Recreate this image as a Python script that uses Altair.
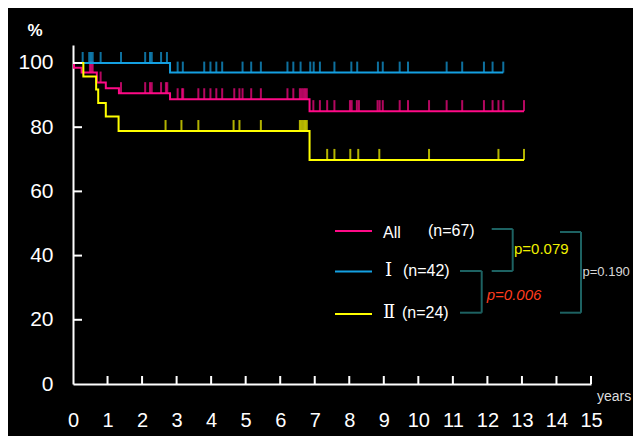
import altair as alt
import pandas as pd

# ---------------- data ----------------
GROUPS = ["All", "Ⅰ", "Ⅱ"]
N_LABELS = ["(n=67)", "(n=42)", "(n=24)"]
COLORS = ["#ff0a87", "#14a0e1", "#ffff00"]

# step curves (time in years, survival in %)
ALL_T = [0, 0.03, 0.25, 0.69, 0.95, 1.33, 2.81, 6.85, 13.06]
ALL_S = [100, 98.5, 97.0, 93.9, 92.1, 90.6, 88.7, 85.0, 85.0]
I_T = [0, 2.81, 12.46]
I_S = [100, 97.0, 97.0]
II_T = [0, 0.30, 0.67, 0.73, 0.95, 1.32, 6.85, 13.06]
II_S = [100, 95.8, 91.7, 87.5, 83.3, 78.8, 69.8, 69.8]

# censoring marks (years)
ALL_CENS = [0.49, 0.53, 0.57, 0.80, 1.39, 2.09, 2.23, 2.28, 2.55, 2.69, 2.73,
            3.03, 3.16, 3.19, 3.63, 3.80, 3.98, 4.15, 4.32, 4.67, 4.82, 4.91,
            5.16, 5.44, 6.21, 6.38, 6.57, 6.62, 6.67, 6.72, 6.77, 6.96, 7.15,
            7.36, 7.57, 8.02, 8.07, 8.22, 8.28, 8.82, 8.88, 8.97, 9.46, 9.70,
            10.31, 10.82, 11.27, 11.90, 12.15, 12.32, 12.46, 13.06]
I_CENS = [0.28, 0.47, 0.52, 0.57, 0.80, 1.39, 2.09, 2.23, 2.28, 2.55, 2.72,
          3.03, 3.18, 3.80, 3.98, 4.15, 4.32, 4.91, 5.16, 5.44, 6.21, 6.38,
          6.59, 6.87, 6.97, 7.15, 7.57, 8.06, 8.23, 8.83, 8.97, 9.46, 9.70,
          10.82, 11.27, 11.90, 12.15, 12.46]
II_CENS = [2.68, 3.14, 3.63, 4.65, 4.82, 5.44, 6.57, 6.62, 6.67, 6.72, 6.77,
           7.36, 7.57, 8.03, 8.26, 8.87, 10.31, 12.32, 13.06]

X_TICKS = list(range(16))
Y_TICKS = [0, 20, 40, 60, 80, 100]
P_VALUES = ["p=0.079", "p=0.006", "p=0.190"]

FONT = "Liberation Sans"
W, H = 518, 339

x_enc = alt.X("t:Q", scale=alt.Scale(domain=[0, 15], nice=False, zero=False, padding=0),
              axis=alt.Axis(values=X_TICKS, format="d", labelFontSize=20,
                            labelColor="white", labelFont=FONT, labelPadding=26,
                            ticks=False, tickSize=0, domainColor="white",
                            domainWidth=2, grid=False, title=None,
                            labelFlush=False, labelOverlap=False))
y_enc = alt.Y("s:Q", scale=alt.Scale(domain=[0, 105.6], nice=False, padding=0),
              axis=alt.Axis(values=Y_TICKS, format="d", labelFontSize=21,
                            labelColor="white", labelFont=FONT, labelPadding=20,
                            ticks=False, tickSize=0, domainColor="white",
                            domainWidth=2, grid=False, title=None,
                            labelOverlap=False))


def surv_at(times, vals, t):
    v = vals[0]
    for ti, vi in zip(times, vals):
        if ti <= t:
            v = vi
    return v


def group_layers(times, vals, cens, color):
    line_df = pd.DataFrame({"t": times, "s": vals})
    cens_df = pd.DataFrame({"t": cens, "s": [surv_at(times, vals, c) for c in cens]})
    line = alt.Chart(line_df).mark_line(interpolate="step-after", color=color,
                                        strokeWidth=2).encode(x=x_enc, y=y_enc)
    ticks = alt.Chart(cens_df).mark_tick(orient="vertical", color=color, size=11,
                                         thickness=2, yOffset=-5.5).encode(x=x_enc, y=y_enc)
    return [line, ticks]


one = pd.DataFrame({"a": [0]})


def text(s, x, y, color="white", size=16, align="left", **kw):
    return alt.Chart(one).mark_text(text=s, color=color, fontSize=size, font=kw.pop("font", FONT),
                                    align=align, baseline="middle", **kw).encode(
        x=alt.value(x), y=alt.value(y))


def seg(x1, x2, y1, y2, color, w=2):
    return alt.Chart(one).mark_rule(color=color, strokeWidth=w).encode(
        x=alt.value(x1), x2=alt.value(x2), y=alt.value(y1), y2=alt.value(y2))


layers = []
layers += group_layers(ALL_T, ALL_S, ALL_CENS, COLORS[0])
layers += group_layers(I_T, I_S, I_CENS, COLORS[1])
layers += group_layers(II_T, II_S, II_CENS, COLORS[2])

# inward axis ticks
xt = alt.Chart(pd.DataFrame({"t": X_TICKS[1:]})).mark_rule(color="white", strokeWidth=2).encode(
    x=x_enc, y=alt.value(H), y2=alt.value(H - 8))
yt = alt.Chart(pd.DataFrame({"s": Y_TICKS[1:]})).mark_rule(color="white", strokeWidth=2).encode(
    y=y_enc, x=alt.value(0), x2=alt.value(9))
layers += [xt, yt]

# legend
leg_y = [186, 226.5, 269]
for i in range(3):
    layers.append(seg(262, 299, leg_y[i], leg_y[i], COLORS[i]))
layers.append(text(GROUPS[0], 310, 188, size=16))
layers.append(text(N_LABELS[0], 355, 186, size=16))
layers.append(text(GROUPS[1], 315.5, 226, size=18, align="center", font="DejaVu Serif"))
layers.append(text(N_LABELS[1], 330, 226, size=16))
layers.append(text(GROUPS[2], 316, 268, size=18, align="center", font="DejaVu Serif"))
layers.append(text(N_LABELS[2], 329, 268, size=16))

# brackets
BR = "#1d6262"
for (xa, xb, ya, yb) in [(418.7, 439.7, 184, 226), (387, 408.7, 226, 267.7), (487, 508, 187, 267.7)]:
    layers.append(seg(xa, xb, ya, ya, BR))
    layers.append(seg(xa, xb, yb, yb, BR))
    layers.append(seg(xb, xb, ya, yb, BR))
layers.append(text(P_VALUES[0], 441, 204, color="#f0f000", size=15))
layers.append(text(P_VALUES[1], 413.7, 250, color="#ff3c1e", size=15, fontStyle="italic"))
layers.append(text(P_VALUES[2], 509.5, 227, color="#d8d8d8", size=13))

# axis captions
layers.append(text("%", -38, -14, size=17, align="center", fontWeight="bold"))
layers.append(text("years", 524, 352, color="#dddddd", size=14))

chart = alt.layer(*layers).properties(
    width=W, height=H,
    autosize=alt.AutoSizeParams(type="none"),
    padding={"left": 65, "top": 37, "right": 42, "bottom": 52},
).configure(background="black").configure_view(stroke=None)

chart.save("out.html", embed_options={"renderer": "svg", "actions": False})
